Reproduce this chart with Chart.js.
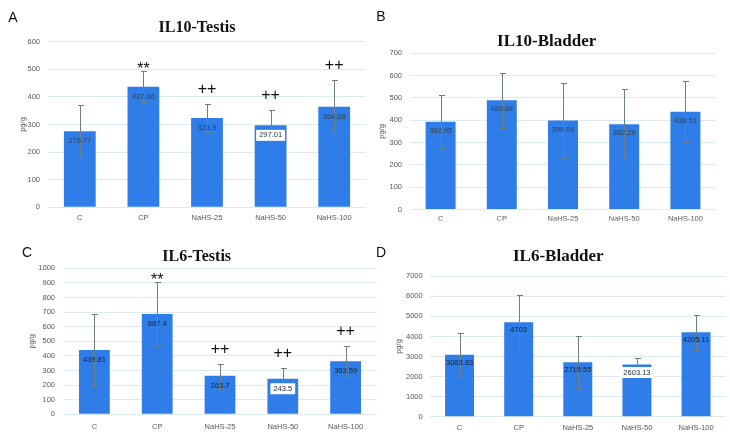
<!DOCTYPE html>
<html><head><meta charset="utf-8">
<script src="https://cdn.jsdelivr.net/npm/chart.js@4.4.1/dist/chart.umd.min.js"></script>
<style>
html,body{margin:0;padding:0;background:#fff;}
body{width:730px;height:444px;position:relative;overflow:hidden;}
canvas{position:absolute;}
</style></head><body>
<canvas id="cA" width="370" height="222" style="left:0;top:0"></canvas>
<canvas id="cB" width="360" height="222" style="left:370px;top:0"></canvas>
<canvas id="cC" width="380" height="222" style="left:0;top:222px"></canvas>
<canvas id="cD" width="360" height="222" style="left:370px;top:222px"></canvas>
<script>
// ---- data ----
const categories = ['C', 'CP', 'NaHS-25', 'NaHS-50', 'NaHS-100'];

const il10TestisValues = [275.77, 437.06, 323.9, 297.01, 364.68];
const il10TestisErrors = [95, 57, 52, 57, 96];
const il10TestisMarks  = ['', '**', '++', '++', '++'];

const il10BladderValues = [392.95, 489.84, 399.04, 382.29, 438.51];
const il10BladderErrors = [119, 123, 170, 156, 137];
const il10BladderMarks  = ['', '', '', '', ''];

const il6TestisValues = [439.81, 687.4, 263.7, 243.5, 363.59];
const il6TestisErrors = [245, 217, 82, 74, 106];
const il6TestisMarks  = ['', '**', '++', '++', '++'];

const il6BladderValues = [3083.83, 4703, 2719.55, 2603.13, 4205.11];
const il6BladderErrors = [1100, 1350, 1310, 300, 870];
const il6BladderMarks  = ['', '', '', '', ''];

const yAxisTitle = 'pg/g';
// ----------------

const SANS = '"Liberation Sans", Arial, sans-serif';
const SERIF = '"Liberation Serif", "Times New Roman", serif';
const BAR = '#2e7de9';
const GRID = '#dcebeb';
const TICK = '#595959';

const decor = {
  id: 'decor',
  afterDatasetsDraw(chart, args, o) {
    const ctx = chart.ctx;
    const meta = chart.getDatasetMeta(0);
    const ys = chart.scales.y;
    const data = chart.data.datasets[0].data;
    ctx.save();
    // error bars
    ctx.strokeStyle = '#6e8080';
    ctx.lineWidth = 1;
    meta.data.forEach((bar, i) => {
      const x = Math.round(bar.x) + 0.5;
      const yt = Math.round(ys.getPixelForValue(data[i] + o.errors[i])) + 0.5;
      const yb = Math.round(ys.getPixelForValue(data[i] - o.errors[i])) + 0.5;
      ctx.beginPath();
      ctx.moveTo(x, yt); ctx.lineTo(x, yb);
      ctx.moveTo(x - 2.5, yt); ctx.lineTo(x + 3.5, yt);
      ctx.moveTo(x - 2.5, yb); ctx.lineTo(x + 3.5, yb);
      ctx.stroke();
    });
    // value labels
    ctx.font = o.labelFont;
    ctx.textAlign = 'center';
    ctx.textBaseline = 'middle';
    meta.data.forEach((bar, i) => {
      const txt = String(data[i]);
      const y = bar.y + o.labelOffset;
      if (o.boxed[i]) {
        const w = ctx.measureText(txt).width + 6;
        ctx.fillStyle = '#ffffff';
        ctx.fillRect(bar.x - w / 2, y - 5.5, w, 11);
      }
      ctx.fillStyle = o.labelColor;
      ctx.fillText(txt, bar.x, y);
    });
    // significance marks
    ctx.fillStyle = '#111';
    ctx.font = '16px ' + SANS;
    ctx.textBaseline = 'alphabetic';
    meta.data.forEach((bar, i) => {
      const m = o.marks[i];
      if (!m) return;
      const yt = ys.getPixelForValue(data[i] + o.errors[i]);
      const y = m === '**' ? yt + 3 : yt - 10;
      ctx.fillText(m, bar.x, y);
    });
    ctx.restore();
  },
  afterDraw(chart, args, o) {
    const ctx = chart.ctx;
    ctx.save();
    ctx.fillStyle = '#111';
    ctx.textAlign = 'center';
    ctx.textBaseline = 'middle';
    ctx.font = 'bold ' + o.titleSize + 'px ' + SERIF;
    ctx.fillText(o.title, o.titleX, o.titleY);
    ctx.font = '14px ' + SANS;
    ctx.fillText(o.letter, o.letterX, o.letterY);
    ctx.restore();
  }
};

function makeChart(id, values, errors, marks, boxed, g) {
  return new Chart(document.getElementById(id), {
    type: 'bar',
    data: {
      labels: categories,
      datasets: [{ data: values, backgroundColor: BAR, borderWidth: 0,
                   categoryPercentage: 1, barPercentage: g.barPct }]
    },
    options: {
      responsive: false, animation: false,
      devicePixelRatio: 1,
      layout: { padding: { left: 0, right: g.padRight, top: g.padTop, bottom: 0 } },
      plugins: {
        legend: { display: false }, tooltip: { enabled: false }, title: { display: false },
        decor: {
          errors, marks, boxed,
          title: g.title, titleX: g.titleX, titleY: g.titleY, titleSize: g.titleSize,
          letter: g.letter, letterX: g.letterX, letterY: g.letterY,
          labelFont: '7.5px ' + SANS, labelColor: g.labelColor, labelOffset: g.labelOffset
        }
      },
      scales: {
        x: {
          grid: { display: false, drawTicks: false },
          border: { display: false },
          ticks: { color: TICK, font: { family: SANS, size: 7.5 }, padding: g.xPad, maxRotation: 0, autoSkip: false },
          afterFit: s => { s.height = g.xHeight; }
        },
        y: {
          min: 0, max: g.max,
          grid: { color: GRID, drawTicks: false, lineWidth: 1 },
          border: { display: false },
          ticks: { stepSize: g.step, color: TICK, font: { family: SANS, size: 7.5 }, padding: g.yPad,
                   callback: v => String(v) },
          title: { display: true, text: yAxisTitle, color: TICK, font: { family: SANS, size: 7.5 },
                   padding: { top: g.yTitlePad, bottom: 0 } },
          afterFit: s => { s.width = g.yWidth; }
        }
      }
    },
    plugins: [decor]
  });
}

makeChart('cA', il10TestisValues, il10TestisErrors, il10TestisMarks, [false, false, false, true, false], {
  max: 600, step: 100, barPct: 0.5, padRight: 4, padTop: 41.7, xHeight: 14.7, yWidth: 48,
  xPad: 6, yPad: 8, yTitlePad: 18.5,
  title: 'IL10-Testis', titleX: 197, titleY: 28, titleSize: 16,
  letter: 'A', letterX: 13, letterY: 18, labelColor: '#34414c', labelOffset: 10
});
makeChart('cB', il10BladderValues, il10BladderErrors, il10BladderMarks, [false, false, false, false, false], {
  max: 700, step: 100, barPct: 0.49, padRight: 14, padTop: 53.3, xHeight: 11.3, yWidth: 40,
  xPad: 5, yPad: 8, yTitlePad: 7.2,
  title: 'IL10-Bladder', titleX: 176.7, titleY: 41.7, titleSize: 17,
  letter: 'B', letterX: 11, letterY: 17, labelColor: '#34414c', labelOffset: 9
});
makeChart('cC', il6TestisValues, il6TestisErrors, il6TestisMarks, [false, false, false, true, false], {
  max: 1000, step: 100, barPct: 0.49, padRight: 3, padTop: 46.3, xHeight: 29.7, yWidth: 63,
  xPad: 8, yPad: 8, yTitlePad: 27.5,
  title: 'IL6-Testis', titleX: 196.7, titleY: 34.7, titleSize: 16,
  letter: 'C', letterX: 27, letterY: 31, labelColor: '#18222e', labelOffset: 10
});
makeChart('cD', il6BladderValues, il6BladderErrors, il6BladderMarks, [false, false, false, true, false], {
  max: 7000, step: 1000, barPct: 0.49, padRight: 4.4, padTop: 54.3, xHeight: 27.3, yWidth: 60,
  xPad: 6.5, yPad: 7.3, yTitlePad: 24.8,
  title: 'IL6-Bladder', titleX: 188.3, titleY: 34.7, titleSize: 17,
  letter: 'D', letterX: 11, letterY: 31, labelColor: '#18222e', labelOffset: 8
});
</script>
</body></html>
